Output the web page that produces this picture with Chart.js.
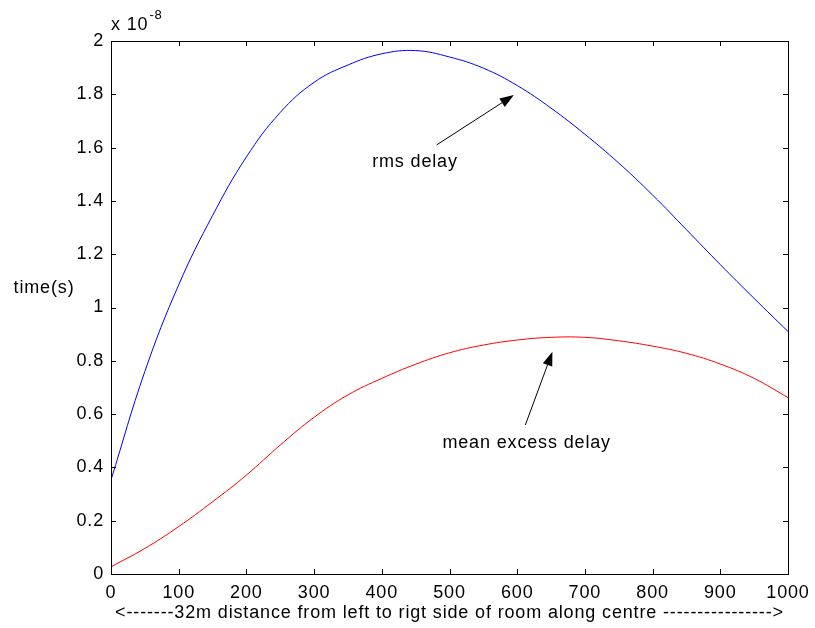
<!DOCTYPE html>
<html>
<head>
<meta charset="utf-8">
<script src="https://cdn.jsdelivr.net/npm/chart.js@4/dist/chart.umd.min.js"></script>
<style>
  html, body { margin: 0; padding: 0; background: #fff; }
  #delayChart { display: block; }
</style>
</head>
<body>
<canvas id="delayChart" width="815" height="628"></canvas>
<script>
// distance along the room (x) and delays in units of 1e-8 s
var distance = [0, 50, 100, 150, 200, 250, 300, 350, 400, 450, 500, 550, 600, 650, 700, 750, 800, 850, 900, 950, 1000];
var rmsDelay = [0.353, 0.76, 1.085, 1.345, 1.565, 1.732, 1.845, 1.91, 1.952, 1.964, 1.94, 1.898, 1.833, 1.748, 1.65, 1.542, 1.422, 1.292, 1.161, 1.034, 0.91];
var meanExcessDelay = [0.027, 0.096, 0.178, 0.271, 0.371, 0.484, 0.588, 0.672, 0.734, 0.787, 0.83, 0.859, 0.878, 0.888, 0.888, 0.875, 0.855, 0.828, 0.788, 0.734, 0.662];

var xTicks = [0, 100, 200, 300, 400, 500, 600, 700, 800, 900, 1000];
var yTicks = [0, 0.2, 0.4, 0.6, 0.8, 1, 1.2, 1.4, 1.6, 1.8, 2];

var xTitle = '<-------32m distance from left to rigt side of room along centre ---------------->';
var yTitle = 'time(s)';

// text + arrow notes, in data units
var notes = [
  { text: 'rms delay', tx: 449, ty: 1.544, fromX: 481, fromY: 1.61, toX: 595, toY: 1.797 },
  { text: 'mean excess delay', tx: 614, ty: 0.493, fromX: 612, fromY: 0.559, toX: 652, toY: 0.834 }
];

var FAMILY = '"Liberation Sans", Arial, sans-serif';
var FONT = '18px ' + FAMILY;
var SPACING = '0.85px';

function toPoints(xs, ys) {
  return xs.map(function(x, i) { return { x: x, y: ys[i] }; });
}

var matlabFrame = {
  id: 'matlabFrame',
  beforeLayout: function(chart) {
    chart.ctx.letterSpacing = SPACING;
  },
  beforeDraw: function(chart) {
    var ctx = chart.ctx;
    ctx.save();
    ctx.fillStyle = '#fff';
    ctx.fillRect(0, 0, chart.width, chart.height);
    ctx.restore();
    // canvas resize clears the state, so set the spacing again before the axes are drawn
    ctx.letterSpacing = SPACING;
  },
  afterDraw: function(chart) {
    var ctx = chart.ctx;
    var a = chart.chartArea;
    var xs = chart.scales.x, ys = chart.scales.y;
    var tl = 5;
    ctx.save();
    ctx.letterSpacing = SPACING;
    ctx.strokeStyle = '#000';
    ctx.lineWidth = 1;
    ctx.strokeRect(Math.round(a.left) + 0.5, Math.round(a.top) + 0.5, Math.round(a.right - a.left), Math.round(a.bottom - a.top));

    ctx.beginPath();
    xTicks.forEach(function(v) {
      var px = Math.round(xs.getPixelForValue(v)) + 0.5;
      ctx.moveTo(px, a.bottom); ctx.lineTo(px, a.bottom - tl);
      ctx.moveTo(px, a.top); ctx.lineTo(px, a.top + tl);
    });
    yTicks.forEach(function(v) {
      var py = Math.round(ys.getPixelForValue(v)) + 0.5;
      ctx.moveTo(a.left, py); ctx.lineTo(a.left + tl, py);
      ctx.moveTo(a.right, py); ctx.lineTo(a.right - tl, py);
    });
    ctx.stroke();

    // exponent label
    ctx.fillStyle = '#000';
    ctx.font = FONT;
    ctx.textBaseline = 'alphabetic';
    ctx.textAlign = 'left';
    ctx.fillText('x 10', a.left, a.top - 11);
    var w = ctx.measureText('x 10').width;
    ctx.font = '13px ' + FAMILY;
    ctx.fillText('-8', a.left + w + 1, a.top - 22);

    // horizontal y title
    ctx.font = FONT;
    ctx.textAlign = 'center';
    ctx.textBaseline = 'middle';
    ctx.fillText(yTitle, 44, 288);

    // notes with arrows
    notes.forEach(function(n) {
      ctx.fillText(n.text, xs.getPixelForValue(n.tx), ys.getPixelForValue(n.ty));
      var x0 = xs.getPixelForValue(n.fromX), y0 = ys.getPixelForValue(n.fromY);
      var x1 = xs.getPixelForValue(n.toX), y1 = ys.getPixelForValue(n.toY);
      var ang = Math.atan2(y1 - y0, x1 - x0);
      var hl = 14, hw = 5;
      var bx = x1 - hl * Math.cos(ang), by = y1 - hl * Math.sin(ang);
      ctx.beginPath();
      ctx.moveTo(x0, y0); ctx.lineTo(bx, by);
      ctx.stroke();
      ctx.beginPath();
      ctx.moveTo(x1, y1);
      ctx.lineTo(bx + hw * Math.sin(ang), by - hw * Math.cos(ang));
      ctx.lineTo(bx - hw * Math.sin(ang), by + hw * Math.cos(ang));
      ctx.closePath();
      ctx.fill();
    });
    ctx.restore();
  }
};

var ctx = document.getElementById('delayChart').getContext('2d');
var tickFont = { family: FAMILY, size: 18 };
var chart = new Chart(ctx, {
  type: 'line',
  data: {
    datasets: [{
      label: 'rms delay',
      data: toPoints(distance, rmsDelay),
      borderColor: '#0000ff',
      borderWidth: 1,
      pointRadius: 0,
      tension: 0.4,
      fill: false
    }, {
      label: 'mean excess delay',
      data: toPoints(distance, meanExcessDelay),
      borderColor: '#ff0000',
      borderWidth: 1,
      pointRadius: 0,
      tension: 0.4,
      fill: false
    }]
  },
  options: {
    responsive: false,
    animation: false,
    layout: { padding: { left: 0, top: 41, right: 27, bottom: 0 } },
    plugins: { legend: { display: false }, tooltip: { enabled: false } },
    scales: {
      x: {
        type: 'linear',
        min: 0,
        max: 1000,
        grid: { display: false, drawTicks: false },
        border: { display: false },
        afterBuildTicks: function(s) { s.ticks = xTicks.map(function(v) { return { value: v }; }); },
        afterFit: function(s) { s.height = 54; s.paddingLeft = 0; s.paddingRight = 0; },
        ticks: {
          color: '#000', font: tickFont, padding: 8, maxRotation: 0, autoSkip: false,
          callback: function(v) { return String(v); }
        },
        title: { display: true, text: xTitle, color: '#000', font: tickFont, padding: { top: 0, bottom: 4 } }
      },
      y: {
        min: 0,
        max: 2,
        grid: { display: false, drawTicks: false },
        border: { display: false },
        afterBuildTicks: function(s) { s.ticks = yTicks.map(function(v) { return { value: v }; }); },
        afterFit: function(s) { s.width = 111; s.paddingTop = 0; s.paddingBottom = 0; },
        ticks: {
          color: '#000',
          font: tickFont,
          padding: 7,
          autoSkip: false,
          callback: function(v) { return String(parseFloat(Number(v).toFixed(1))); }
        }
      }
    }
  },
  plugins: [matlabFrame]
});
</script>
</body>
</html>
